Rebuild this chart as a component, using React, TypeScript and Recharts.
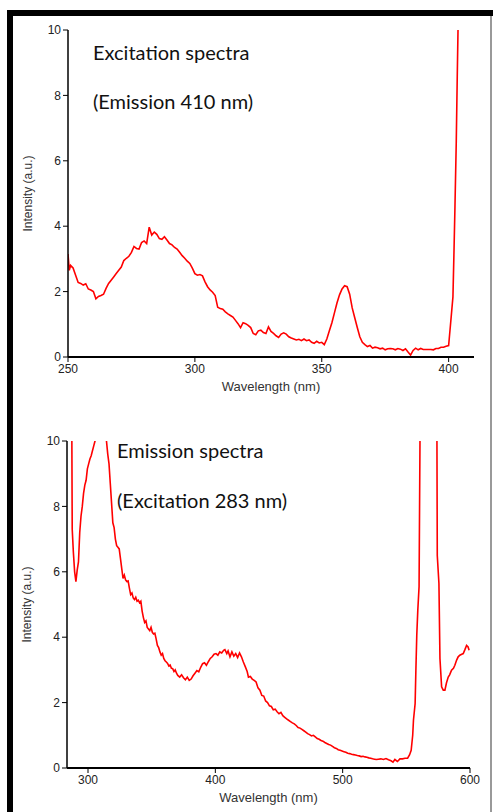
import { LineChart, Line, XAxis, YAxis, Label } from 'recharts';

// [wavelength nm, intensity a.u.] (emission 410 nm)
const excitation: [number, number][] = [
  [250, 3.15], [250.5, 2.65], [251, 2.8], [252, 2.72], [253, 2.5], [254, 2.28], [255, 2.25],
  [256, 2.2], [257, 2.24], [258, 2.08], [259, 2.05], [260, 2.0], [261, 1.78], [262, 1.85],
  [263, 1.88], [264, 1.92], [265, 2.1], [266, 2.25], [267, 2.35], [268, 2.45], [269, 2.55],
  [270, 2.65], [271, 2.75], [272, 2.95], [273, 3.02], [274, 3.08], [275, 3.2], [276, 3.38],
  [277, 3.32], [278, 3.3], [279, 3.5], [280, 3.55], [281, 3.47], [282, 3.97], [283, 3.73],
  [284, 3.82], [285, 3.75], [286, 3.62], [287, 3.6], [288, 3.68], [289, 3.58], [290, 3.47],
  [291, 3.43], [292, 3.35], [293, 3.3], [294, 3.2], [295, 3.1], [296, 3.02], [297, 2.93],
  [298, 2.86], [299, 2.72], [300, 2.55], [301, 2.5], [302, 2.52], [303, 2.48], [304, 2.3],
  [305, 2.15], [306, 2.05], [307, 1.98], [308, 1.88], [309, 1.52], [310, 1.48], [311, 1.46],
  [312, 1.38], [313, 1.32], [314, 1.27], [315, 1.22], [316, 1.12], [317, 1.02], [318, 0.9],
  [319, 1.05], [320, 1.02], [321, 0.97], [322, 0.9], [323, 0.72], [324, 0.68], [325, 0.8],
  [326, 0.82], [327, 0.75], [328, 0.72], [329, 0.92], [330, 0.78], [331, 0.72], [332, 0.65],
  [333, 0.6], [334, 0.7], [335, 0.74], [336, 0.7], [337, 0.62], [338, 0.58], [339, 0.55],
  [340, 0.52], [341, 0.54], [342, 0.5], [343, 0.55], [344, 0.5], [345, 0.52], [346, 0.45],
  [347, 0.42], [348, 0.48], [349, 0.43], [350, 0.45], [351, 0.38], [352, 0.55], [353, 0.8],
  [354, 1.05], [355, 1.35], [356, 1.65], [357, 1.9], [358, 2.08], [359, 2.18], [360, 2.15],
  [361, 1.92], [362, 1.5], [363, 1.2], [364, 0.9], [365, 0.62], [366, 0.45], [367, 0.38],
  [368, 0.32], [369, 0.35], [370, 0.27], [371, 0.3], [372, 0.28], [373, 0.25], [374, 0.27],
  [375, 0.22], [376, 0.25], [377, 0.26], [378, 0.25], [379, 0.22], [380, 0.26], [381, 0.24],
  [382, 0.2], [383, 0.25], [384, 0.15], [385, 0.06], [386, 0.2], [387, 0.27], [388, 0.22],
  [389, 0.26], [390, 0.23], [391, 0.23], [392, 0.23], [393, 0.23], [394, 0.22], [395, 0.26],
  [396, 0.26], [397, 0.3], [398, 0.3], [399, 0.33], [400, 0.35], [400.9, 1.13], [401.7, 1.84],
  [402.1, 3.18], [402.5, 4.6], [403, 6.54], [403.4, 8.57], [403.7, 10],
];

// [wavelength nm, intensity a.u.] (excitation 283 nm), values > 10 run off the top
const emission: [number, number][] = [
  [286.9, 12], [287.3, 10.2], [287.6, 7.3], [288.5, 6.6], [289.5, 6.0], [290.5, 5.7],
  [291.5, 6.05], [292.5, 6.3], [293.5, 7.2], [294.5, 7.7], [295.5, 8.0], [296.5, 8.4],
  [297.5, 8.65], [298.5, 8.8], [299.5, 9.15], [300.5, 9.3], [301.5, 9.45], [302.5, 9.55],
  [303.5, 9.7], [304.5, 9.85], [305.5, 10.0], [307, 10.6], [309, 11.2], [311, 11.4],
  [313, 10.8], [314.5, 10.0], [315.5, 9.6], [316.5, 9.3], [317.5, 8.7], [318.5, 8.1],
  [319.5, 7.5], [320.5, 7.35], [321.5, 7.0], [322.5, 6.8], [323.5, 6.75], [324.5, 6.7],
  [325.5, 6.4], [326.5, 6.1], [327.5, 5.8], [328.5, 5.9], [329.5, 5.75], [330.5, 5.7],
  [331.5, 5.72], [332.5, 5.5], [333.5, 5.3], [334.5, 5.35], [335.5, 5.2], [336.5, 5.15],
  [337.5, 5.22], [338.5, 5.1], [339.5, 5.13], [340.5, 5.05], [341.5, 5.1], [342.5, 4.8],
  [343.5, 4.6], [344.5, 4.45], [345.5, 4.5], [346.5, 4.3], [347.5, 4.25], [348.5, 4.2],
  [349.5, 4.3], [350.5, 4.15], [351.5, 4.1], [352.5, 4.12], [353.5, 3.95], [354.5, 3.75],
  [355.5, 3.68], [356.5, 3.55], [357.5, 3.45], [358.5, 3.5], [359.5, 3.35], [360.5, 3.28],
  [361.5, 3.24], [362.5, 3.2], [363.5, 3.12], [364.5, 3.15], [365.5, 3.05], [366.5, 3.04],
  [367.5, 2.95], [368.5, 3.0], [369.5, 2.9], [370.5, 2.83], [372, 2.78], [373.5, 2.85],
  [375, 2.76], [376.5, 2.7], [378, 2.78], [379.5, 2.68], [381, 2.72], [382.5, 2.82],
  [384, 2.9], [385.5, 2.98], [387, 2.94], [388.5, 3.08], [390, 3.19], [391.5, 3.22],
  [393, 3.14], [394.5, 3.25], [396, 3.35], [397.5, 3.4], [399, 3.48], [400.5, 3.5],
  [402, 3.45], [403.5, 3.55], [405, 3.52], [406.5, 3.6], [407.5, 3.62], [409, 3.5],
  [410, 3.58], [411.5, 3.4], [413, 3.55], [414.5, 3.42], [416, 3.5], [417.5, 3.38],
  [419, 3.52], [420.5, 3.4], [422, 3.24], [423.5, 3.1], [425, 2.95], [426, 2.78],
  [427.5, 2.8], [429, 2.72], [430.5, 2.68], [432, 2.63], [433.5, 2.45], [435, 2.38],
  [436.5, 2.22], [438, 2.2], [439.5, 2.05], [441, 2.0], [442.5, 1.9], [444, 1.88],
  [445.5, 1.78], [447, 1.8], [448.5, 1.72], [450, 1.66], [451.5, 1.7], [453, 1.6],
  [454.5, 1.55], [456, 1.5], [457.5, 1.46], [459, 1.42], [460.5, 1.38], [462, 1.35],
  [463.5, 1.3], [465, 1.24], [466.5, 1.22], [468, 1.18], [469.5, 1.14], [471, 1.1],
  [472.5, 1.05], [474, 1.02], [475.5, 0.98], [477, 1.0], [478.5, 0.95], [480, 0.9],
  [481.5, 0.88], [483, 0.84], [484.5, 0.82], [486, 0.78], [487.5, 0.75], [489, 0.72],
  [490.5, 0.7], [492, 0.66], [493.5, 0.62], [495, 0.6], [496.5, 0.56], [498, 0.54],
  [499.5, 0.52], [501, 0.5], [502.5, 0.48], [504, 0.45], [505.5, 0.44], [507, 0.42],
  [508.5, 0.41], [510, 0.4], [511.5, 0.38], [513, 0.37], [514.5, 0.35], [516, 0.36],
  [517.5, 0.34], [519, 0.33], [520.5, 0.31], [522, 0.3], [523.5, 0.28], [525, 0.27],
  [526.5, 0.26], [528, 0.27], [530, 0.28], [532, 0.26], [534, 0.29], [536, 0.25],
  [538, 0.22], [539.5, 0.18], [541, 0.26], [543, 0.2], [545, 0.28], [547, 0.28],
  [549, 0.3], [551, 0.3], [552.5, 0.4], [553.8, 0.54], [555, 1.0], [555.6, 1.46],
  [556.9, 1.97], [557.5, 3.0], [558.2, 4.06], [559, 4.82], [560, 5.54], [560.8, 10.5],
  [562, 18], [566, 25], [572, 18], [574, 10.5], [574.3, 6.5], [575.6, 5.64], [576.4, 3.35],
  [577.7, 2.48], [579, 2.38], [580.3, 2.38], [581.5, 2.6], [582.9, 2.78], [584, 2.85],
  [585.5, 2.99], [587, 3.05], [588.1, 3.14], [589.5, 3.3], [590.7, 3.4], [592, 3.45],
  [593.5, 3.48], [594.7, 3.5], [596, 3.62], [597.3, 3.75], [598.5, 3.7], [599.3, 3.6],
];

const yTicks = [0, 2, 4, 6, 8, 10];
const excitationTicks = [250, 300, 350, 400];
const emissionTicks = [300, 400, 500, 600];

const toRows = (pts: [number, number][]) => pts.map(([w, v]) => ({ w, v }));

const tickStyle = { fontFamily: '"Liberation Sans", Arial, sans-serif', fontSize: 12, fill: '#222' };
const labelFont = '"Liberation Sans", Arial, sans-serif';
const titleStyle: React.CSSProperties = {
  position: 'absolute',
  fontFamily: 'Lato, "Open Sans", sans-serif',
  fontSize: 20,
  lineHeight: '20px',
  color: '#111',
  whiteSpace: 'nowrap',
};

interface SpectrumProps {
  rows: { w: number; v: number }[];
  domain: [number, number];
  ticks: number[];
  margin: { top: number; right: number; bottom: number; left: number };
}

function Spectrum({ rows, domain, ticks, margin }: SpectrumProps) {
  return (
    <LineChart width={493} height={400} data={rows} margin={margin}>
      <XAxis
        type="number"
        dataKey="w"
        domain={domain}
        ticks={ticks}
        allowDataOverflow
        height={30}
        tick={tickStyle}
        tickSize={5}
        axisLine={{ stroke: '#000', strokeWidth: 2 }}
        tickLine={{ stroke: '#000' }}
      >
        <Label
          value="Wavelength (nm)"
          position="insideBottom"
          offset={-4}
          style={{ fontFamily: labelFont, fontSize: 13, fill: '#333' }}
        />
      </XAxis>
      <YAxis
        type="number"
        domain={[0, 10]}
        ticks={yTicks}
        allowDataOverflow
        width={40}
        tick={tickStyle}
        tickSize={5}
        axisLine={{ stroke: '#000', strokeWidth: 1.5 }}
        tickLine={{ stroke: '#000' }}
      >
        <Label
          value="Intensity (a.u.)"
          angle={-90}
          position="insideLeft"
          offset={0}
          style={{ fontFamily: labelFont, fontSize: 12, fill: '#333', textAnchor: 'middle' }}
        />
      </YAxis>
      <Line
        type="linear"
        dataKey="v"
        stroke="#ff0000"
        strokeWidth={1.6}
        dot={false}
        isAnimationActive={false}
      />
    </LineChart>
  );
}

export default function App() {
  return (
    <div style={{ position: 'absolute', left: 0, top: 0, width: 493, height: 812, background: '#fff', overflow: 'hidden' }}>
      {/* page frame */}
      <div style={{ position: 'absolute', left: 7, top: 10, width: 6, height: 802, background: '#000' }} />
      <div style={{ position: 'absolute', left: 7, top: 10, width: 486, height: 6, background: '#000' }} />
      <div style={{ position: 'absolute', left: 490, top: 16, width: 2, height: 796, background: '#999' }} />

      <div style={{ position: 'absolute', left: 0, top: 0 }}>
        <Spectrum
          rows={toRows(excitation)}
          domain={[250, 410]}
          ticks={excitationTicks}
          margin={{ top: 30, right: 19, bottom: 13, left: 28 }}
        />
      </div>
      <div style={{ position: 'absolute', left: 0, top: 410 }}>
        <Spectrum
          rows={toRows(emission)}
          domain={[283.5, 600]}
          ticks={emissionTicks}
          margin={{ top: 31, right: 23, bottom: 12, left: 27 }}
        />
      </div>

      <div style={{ ...titleStyle, left: 93, top: 42 }}>Excitation spectra</div>
      <div style={{ ...titleStyle, left: 93, top: 91 }}>(Emission 410 nm)</div>
      <div style={{ ...titleStyle, left: 117, top: 440 }}>Emission spectra</div>
      <div style={{ ...titleStyle, left: 117, top: 490 }}>(Excitation 283 nm)</div>
    </div>
  );
}
